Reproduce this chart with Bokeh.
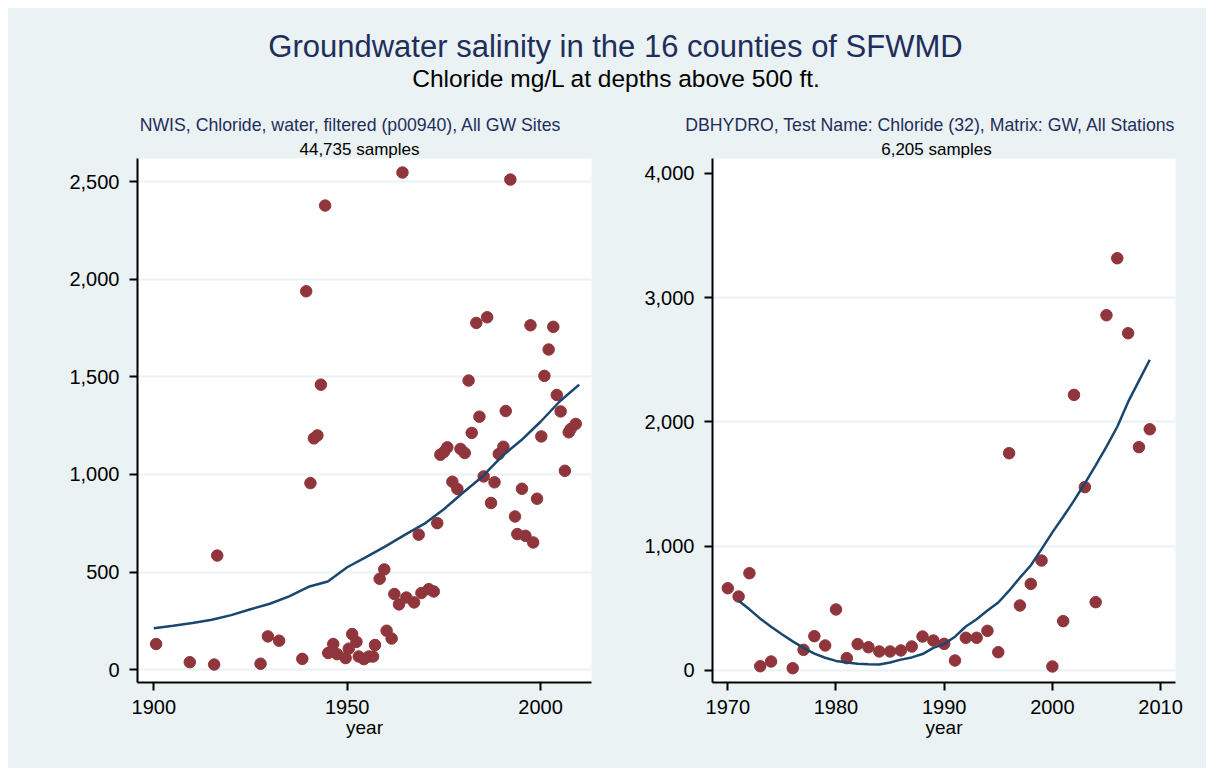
from bokeh.plotting import figure
from bokeh.layouts import column, row
from bokeh.models import Range1d, FixedTicker, NumeralTickFormatter
from bokeh.core.properties import value
from bokeh.embed import file_html
from bokeh.resources import INLINE

# ---------------- data ----------------
main_title = "Groundwater salinity in the 16 counties of SFWMD"
sub_title = "Chloride mg/L at depths above 500 ft."
left_title = "NWIS, Chloride, water, filtered (p00940), All GW Sites"
left_note = "44,735 samples"
right_title = "DBHYDRO, Test Name: Chloride (32), Matrix: GW, All Stations"
right_note = "6,205 samples"
x_label = "year"

nwis_year = [1900.6, 1909.3, 1915.6, 1916.4, 1927.6, 1929.5, 1932.4, 1938.4, 1939.4, 1940.5,
             1941.4, 1942.3, 1943.2, 1944.3, 1945.1, 1946.4, 1947.4, 1949.6, 1950.4, 1951.3,
             1952.4, 1953.0, 1954.3, 1955.6, 1956.7, 1957.2, 1958.4, 1959.6, 1960.2, 1961.5,
             1962.2, 1963.4, 1964.3, 1965.3, 1967.3, 1968.5, 1969.2, 1971.1, 1972.4, 1973.3,
             1974.1, 1975.0, 1975.9, 1977.2, 1978.5, 1979.3, 1980.4, 1981.4, 1982.2, 1983.4,
             1984.2, 1985.3, 1986.2, 1987.2, 1988.1, 1989.2, 1990.4, 1991.0, 1992.2, 1993.4,
             1994.0, 1995.2, 1996.1, 1997.4, 1998.1, 1999.1, 2000.2, 2001.0, 2002.1, 2003.3,
             2004.2, 2005.2, 2006.3, 2007.3, 2007.8, 2009.1]
nwis_chloride = [132, 39, 27, 585, 31, 171, 149, 56, 1938, 956,
                 1185, 1200, 1460, 2377, 86, 132, 80, 60, 108, 183,
                 143, 68, 55, 68, 68, 127, 466, 514, 200, 160,
                 388, 335, 2546, 370, 345, 692, 393, 413, 401, 751,
                 1101, 1115, 1139, 963, 926, 1131, 1110, 1481, 1213, 1776,
                 1296, 990, 1805, 854, 960, 1105, 1142, 1325, 2510, 785,
                 695, 927, 686, 1764, 652, 876, 1195, 1505, 1640, 1756,
                 1407, 1323, 1019, 1216, 1233, 1259]

nwis_fit_year = [1900, 1905, 1910, 1915, 1920, 1925, 1930, 1935, 1940, 1945, 1950, 1955,
                 1960, 1965, 1970, 1975, 1980, 1985, 1990, 1995, 2000, 2005, 2010]
nwis_fit = [213, 225, 240, 256, 280, 310, 338, 376, 425, 452, 525, 578,
            633, 692, 748, 822, 908, 990, 1093, 1175, 1270, 1375, 1460]

dbh_year = [1970, 1971, 1972, 1973, 1974, 1976, 1977, 1978, 1979, 1980,
            1981, 1982, 1983, 1984, 1985, 1986, 1987, 1988, 1989, 1990,
            1991, 1992, 1993, 1994, 1995, 1996, 1997, 1998, 1999, 2000,
            2001, 2002, 2003, 2004, 2005, 2006, 2007, 2008, 2009]
dbh_chloride = [660, 593, 781, 32, 70, 16, 164, 274, 199, 489,
                97, 210, 185, 151, 151, 159, 191, 271, 239, 212,
                78, 261, 261, 317, 145, 1747, 521, 695, 883, 30,
                395, 2217, 1474, 548, 2858, 3317, 2713, 1796, 1940]

dbh_fit_year = list(range(1971, 2010))
dbh_fit = [560, 490, 415, 350, 290, 232, 180, 133, 100, 75,
           62, 52, 47, 46, 62, 85, 103, 130, 180, 212,
           270, 352, 410, 480, 545, 640, 745, 843, 975, 1110,
           1235, 1365, 1505, 1650, 1800, 1960, 2160, 2330, 2500]

left_xticks = [1900, 1950, 2000]
left_yticks = [0, 500, 1000, 1500, 2000, 2500]
right_xticks = [1970, 1980, 1990, 2000, 2010]
right_yticks = [0, 1000, 2000, 3000, 4000]
right_ygrid = [0, 1000, 2000, 3000]

# ---------------- style ----------------
BG = "#EAF2F3"
MAROON = "#90353B"
NAVY = "#1A476F"
TITLE_NAVY = "#1F2E5B"
FONT = "Liberation Sans"

# ---------------- header ----------------
hdr = figure(width=1198, height=150, x_range=Range1d(0, 1198), y_range=Range1d(150, 0),
             x_axis_location=None, y_axis_location=None, min_border=0,
             output_backend="svg", toolbar_location=None)
hdr.grid.visible = False
hdr.outline_line_color = None
hdr.background_fill_color = BG
hdr.border_fill_color = BG

def htext(x, y, txt, size, color):
    hdr.text(x=[x], y=[y], text=[txt], text_font=value(FONT), text_font_size=size,
             text_color=color, text_align="center", text_baseline="middle")

htext(607, 38, main_title, "31px", TITLE_NAVY)
htext(608, 70, sub_title, "24.5px", "black")
htext(342, 116, left_title, "17.7px", TITLE_NAVY)
htext(351, 141, left_note, "17px", "black")
htext(922, 116, right_title, "17.7px", TITLE_NAVY)
htext(928, 141, right_note, "17px", "black")

# ---------------- panels ----------------
def panel(xs, ys, fx, fy, xr, yr, xticks, yticks, ygrid, mbl, mbr, fw):
    p = figure(frame_width=fw, frame_height=524, x_range=Range1d(*xr), y_range=Range1d(*yr),
               min_border_left=mbl, min_border_right=mbr, min_border_top=0, min_border_bottom=86,
               output_backend="svg", toolbar_location=None)
    p.background_fill_color = "white"
    p.border_fill_color = BG
    p.outline_line_color = None
    p.xgrid.visible = False
    p.ygrid.ticker = FixedTicker(ticks=ygrid)
    p.ygrid.grid_line_color = BG
    p.ygrid.grid_line_width = 2
    p.xaxis.ticker = FixedTicker(ticks=xticks)
    p.yaxis.ticker = FixedTicker(ticks=yticks)
    p.yaxis.formatter = NumeralTickFormatter(format="0,0")
    for ax in (p.xaxis[0], p.yaxis[0]):
        ax.axis_line_color = "black"
        ax.axis_line_width = 2
        ax.major_tick_line_color = "black"
        ax.major_tick_line_width = 2
        ax.major_tick_in = 0
        ax.major_tick_out = 8
        ax.minor_tick_in = 0
        ax.minor_tick_out = 0
        ax.major_label_text_font = FONT
        ax.major_label_text_font_size = "20px"
        ax.major_label_text_color = "black"
    p.xaxis.major_label_standoff = 9
    p.yaxis.major_label_standoff = 10
    p.xaxis.axis_label = x_label
    p.xaxis.axis_label_text_font = FONT
    p.xaxis.axis_label_text_font_size = "19px"
    p.xaxis.axis_label_text_font_style = "normal"
    p.xaxis.axis_label_text_color = "black"
    p.xaxis.axis_label_standoff = 0
    p.scatter(xs, ys, size=11.5, color=MAROON, line_color=MAROON)
    p.line(fx, fy, line_color=NAVY, line_width=2.5)
    return p

p1 = panel(nwis_year, nwis_chloride, nwis_fit_year, nwis_fit,
           (1895.78, 2013.18), (-65.0, 2617.9), left_xticks, left_yticks, left_yticks,
           129, 17, 454)
p2 = panel(dbh_year, dbh_chloride, dbh_fit_year, dbh_fit,
           (1968.586, 2011.38), (-99.0, 4120.0), right_xticks, right_yticks, right_ygrid,
           104, 31, 463)

layout = column(hdr, row(p1, p2, spacing=0), spacing=0, margin=(8, 0, 0, 8))
layout.background = BG

open("out.html", "w").write(file_html(layout, INLINE))
